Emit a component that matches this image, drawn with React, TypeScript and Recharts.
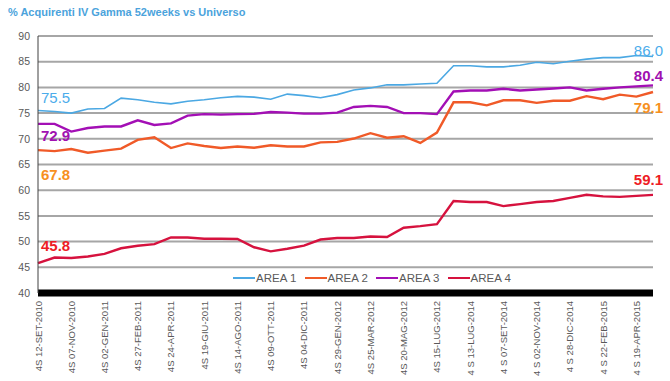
import React from "react";
import { LineChart, Line, XAxis, YAxis, CartesianGrid, LabelList } from "recharts";

const weeks = [
  "4S 12-SET-2010", "4S 10-OTT-2010", "4S 07-NOV-2010", "4S 05-DIC-2010",
  "4S 02-GEN-2011", "4S 30-GEN-2011", "4S 27-FEB-2011", "4S 27-MAR-2011",
  "4S 24-APR-2011", "4S 22-MAG-2011", "4S 19-GIU-2011", "4S 17-LUG-2011",
  "4S 14-AGO-2011", "4S 11-SET-2011", "4S 09-OTT-2011", "4S 06-NOV-2011",
  "4S 04-DIC-2011", "4S 01-GEN-2012", "4S 29-GEN-2012", "4S 26-FEB-2012",
  "4S 25-MAR-2012", "4S 22-APR-2012", "4S 20-MAG-2012", "4S 17-GIU-2012",
  "4S 15-LUG-2012", "4 S 15-GIU-2014", "4 S 13-LUG-2014", "4 S 10-AGO-2014",
  "4 S 07-SET-2014", "4 S 05-OTT-2014", "4 S 02-NOV-2014", "4 S 30-NOV-2014",
  "4 S 28-DIC-2014", "4 S 25-GEN-2015", "4 S 22-FEB-2015", "4 S 22-MAR-2015",
  "4 S 19-APR-2015", "4 S 17-MAG-2015",
];

const area1 = [
  75.5, 75.3, 75.0, 75.8, 75.9, 77.9, 77.6, 77.1, 76.8, 77.3, 77.6, 78.0,
  78.25, 78.1, 77.7, 78.7, 78.4, 78.0, 78.6, 79.5, 79.9, 80.5, 80.5, 80.65,
  80.8, 84.2, 84.2, 84.0, 84.0, 84.3, 84.9, 84.6, 85.1, 85.5, 85.8, 85.8,
  86.2, 86.0,
];
const area2 = [
  67.8, 67.6, 68.0, 67.3, 67.7, 68.1, 69.8, 70.3, 68.2, 69.1, 68.6, 68.2,
  68.5, 68.25, 68.75, 68.5, 68.5, 69.3, 69.4, 70.05, 71.1, 70.2, 70.5, 69.2,
  71.2, 77.1, 77.1, 76.5, 77.5, 77.5, 77.0, 77.4, 77.4, 78.3, 77.7, 78.6,
  78.2, 79.1,
];
const area3 = [
  72.9, 72.9, 71.4, 72.1, 72.4, 72.4, 73.6, 72.7, 73.0, 74.5, 74.8, 74.7,
  74.8, 74.85, 75.2, 75.1, 74.9, 74.9, 75.1, 76.2, 76.4, 76.2, 75.0, 75.0,
  74.8, 79.2, 79.4, 79.4, 79.75, 79.4, 79.6, 79.8, 80.0, 79.4, 79.75, 80.0,
  80.2, 80.4,
];
const area4 = [
  45.8, 46.9, 46.8, 47.1, 47.6, 48.7, 49.2, 49.5, 50.8, 50.8, 50.55, 50.55,
  50.5, 48.9, 48.1, 48.6, 49.2, 50.4, 50.7, 50.7, 51.0, 50.9, 52.7, 53.0,
  53.4, 57.9, 57.7, 57.7, 56.9, 57.3, 57.7, 57.9, 58.5, 59.1, 58.8, 58.7,
  58.9, 59.1,
];

const yTicks = [40, 45, 50, 55, 60, 65, 70, 75, 80, 85, 90];

const data = weeks.map((week, i) => ({
  week,
  a1: area1[i],
  a2: area2[i],
  a3: area3[i],
  a4: area4[i],
}));

const FONT = "'Liberation Sans', Arial, sans-serif";

// line colour, label colour and where the end labels sit relative to the point
const series = [
  { key: "a1", name: "AREA 1", stroke: "#4BA8E3", width: 1.6, label: "#4BACEB", firstDy: -13, lastDy: -6, firstBold: false, lastBold: false },
  { key: "a2", name: "AREA 2", stroke: "#F05A28", width: 2.4, label: "#F7901E", firstDy: 24, lastDy: 15, firstBold: true, lastBold: true },
  { key: "a3", name: "AREA 3", stroke: "#A30FB5", width: 2.4, label: "#A010B0", firstDy: 12, lastDy: -10, firstBold: true, lastBold: true },
  { key: "a4", name: "AREA 4", stroke: "#D6123E", width: 2.4, label: "#EE1C25", firstDy: -18, lastDy: -15, firstBold: true, lastBold: true },
];

const makeEndLabel = (s: (typeof series)[number]) => (props: any) => {
  const { x, y, value, index } = props;
  const last = weeks.length - 1;
  if (index !== 0 && index !== last) return null;
  const first = index === 0;
  return (
    <text
      x={first ? x + 3 : x + 10}
      y={y + (first ? s.firstDy : s.lastDy)}
      textAnchor={first ? "start" : "end"}
      dominantBaseline="central"
      fill={s.label}
      fontSize={15}
      fontWeight={(first ? s.firstBold : s.lastBold) ? "bold" : "normal"}
      fontFamily={FONT}
    >
      {Number(value).toFixed(1)}
    </text>
  );
};

const WeekTick = (props: any) => {
  const { x, y, payload } = props;
  return (
    <text
      x={x}
      y={y}
      transform={`rotate(-90, ${x}, ${y})`}
      textAnchor="end"
      dominantBaseline="central"
      fill="#595959"
      fontSize={9.5}
      fontFamily={FONT}
    >
      {payload.value}
    </text>
  );
};

export default function App() {
  return (
    <div style={{ position: "absolute", left: 0, top: 0, width: 670, height: 381, background: "#fff" }}>
      <div
        style={{
          position: "absolute",
          left: 8,
          top: 6,
          fontFamily: FONT,
          fontSize: 11,
          fontWeight: "bold",
          color: "#4BA3DC",
          whiteSpace: "nowrap",
        }}
      >
        % Acquirenti IV Gamma 52weeks vs Universo
      </div>
      <LineChart width={670} height={381} data={data} margin={{ top: 36, right: 17, left: 8, bottom: 0 }}>
        <CartesianGrid vertical={false} stroke="#A6A6A6" strokeWidth={2} />
        <XAxis
          dataKey="week"
          interval={1}
          height={88}
          tick={<WeekTick />}
          tickLine={false}
          axisLine={{ stroke: "#000", strokeWidth: 7 }}
        />
        <YAxis
          domain={[40, 90]}
          ticks={yTicks}
          width={30}
          tick={{ fontSize: 10.5, fill: "#595959", fontFamily: FONT }}
          tickLine={false}
          axisLine={{ stroke: "#404040", strokeWidth: 1 }}
        />
        {series.map((s) => (
          <Line
            key={s.key}
            dataKey={s.key}
            name={s.name}
            type="linear"
            stroke={s.stroke}
            strokeWidth={s.width}
            dot={false}
            activeDot={false}
            isAnimationActive={false}
          >
            <LabelList dataKey={s.key} content={makeEndLabel(s)} />
          </Line>
        ))}
      </LineChart>
      {/* legend sits inside the plot, above the black axis */}
      <div
        style={{
          position: "absolute",
          left: 233,
          top: 270,
          display: "flex",
          fontFamily: FONT,
          fontSize: 11.5,
          color: "#595959",
          lineHeight: "16px",
        }}
      >
        {series.map((s) => (
          <div key={s.key} style={{ display: "flex", alignItems: "center", width: 71.5 }}>
            <svg width={23} height={16} style={{ flexShrink: 0 }}>
              <line x1={0} y1={8} x2={22} y2={8} stroke={s.stroke} strokeWidth={2} />
            </svg>
            <span>{s.name}</span>
          </div>
        ))}
      </div>
    </div>
  );
}
